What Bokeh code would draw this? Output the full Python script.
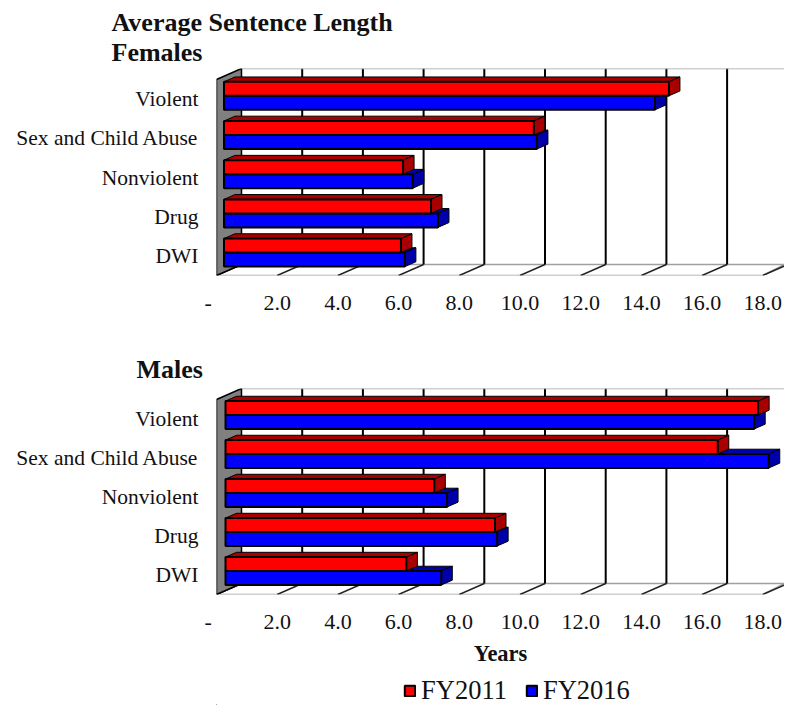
from bokeh.embed import file_html
from bokeh.layouts import column
from bokeh.models import FixedTicker, Legend, LegendItem, Range1d, Title
from bokeh.plotting import figure
from bokeh.resources import INLINE

categories = ["DWI", "Drug", "Nonviolent", "Sex and Child Abuse", "Violent"]
female_fy2011 = [5.83, 6.82, 5.9, 10.21, 14.66]
female_fy2016 = [5.96, 7.05, 6.22, 10.31, 14.2]
male_fy2011 = [5.96, 8.88, 6.88, 16.22, 17.55]
male_fy2016 = [7.11, 8.95, 7.3, 17.9, 17.42]
ticks = [0, 2, 4, 6, 8, 10, 12, 14, 16, 18]
tick_labels = {0: "-\u00a0\u00a0\u00a0", 2: "2.0", 4: "4.0", 6: "6.0", 8: "8.0", 10: "10.0",
               12: "12.0", 14: "14.0", 16: "16.0", 18: "18.0"}
series_names = ["FY2011", "FY2016"]

SERIF = "Liberation Serif"
XPX = 30.35
YPX = 39.2
FRAME_W = 568
FRAME_H = 207
DX = 25 / XPX
DY = 11 / YPX
BAR_H = 14 / YPX
BAR_D = 0.44
RED, DARK_RED = "#ff0000", "#a80000"
BLUE, DARK_BLUE = "#0000ff", "#0000a8"


def chart(v2011, v2016, title, title_offset, title_standoff, height, border_top, border_bottom, bar_front):
    p = figure(width=784, height=height, output_backend="svg", toolbar_location=None,
               x_range=Range1d(0, FRAME_W / XPX), y_range=Range1d(0, FRAME_H / YPX),
               min_border_left=216, min_border_right=0,
               min_border_top=border_top, min_border_bottom=border_bottom,
               background_fill_color="white", outline_line_color=None)
    p.grid.visible = False
    xmax = FRAME_W / XPX
    n = len(categories)
    # floor
    p.patch([0, 18, xmax, DX], [0, 0, DY, DY], fill_color="white", line_color="#a0a0a0", line_width=1.5)
    p.segment(ticks, [0] * len(ticks), [t + DX for t in ticks], [DY] * len(ticks), line_color="#222222", line_width=1.5)
    # back wall
    p.segment([t + DX for t in ticks[1:]], [DY] * 9, [t + DX for t in ticks[1:]], [n + DY] * 9,
              line_color="black", line_width=2)
    p.segment([DX], [n + DY], [xmax], [n + DY], line_color="#a0a0a0", line_width=1.5)
    # side wall
    p.patch([0, DX, DX, 0], [0, DY, n + DY, n], fill_color="#808080", line_color="black", line_width=1.5)

    x0 = bar_front * DX
    y0 = bar_front * DY
    bd_x = BAR_D * DX
    bd_y = BAR_D * DY
    for i in range(n):
        c = i + 0.5 + y0
        for val, lo, front, dark in ((v2016[i], c - BAR_H, BLUE, DARK_BLUE),
                                     (v2011[i], c, RED, DARK_RED)):
            hi = lo + BAR_H
            end = val + x0
            p.patch([x0, x0 + bd_x, end + bd_x, end], [hi, hi + bd_y, hi + bd_y, hi],
                    fill_color=dark, line_color="black", line_width=1)
            p.patch([end, end + bd_x, end + bd_x, end], [lo, lo + bd_y, hi + bd_y, hi],
                    fill_color=dark, line_color="black", line_width=1)
            p.hbar(y=[(lo + hi) / 2], left=[x0], right=[end], height=BAR_H,
                   fill_color=front, line_color="black", line_width=2)

    ya = p.yaxis[0]
    ya.ticker = FixedTicker(ticks=[i + 0.5 for i in range(n)])
    ya.major_label_overrides = {i + 0.5: categories[i] for i in range(n)}
    ya.major_label_text_font = SERIF
    ya.major_label_text_font_size = "21.5px"
    ya.major_label_text_color = "#111111"
    ya.major_label_standoff = 12
    ya.major_tick_line_color = None
    ya.minor_tick_line_color = None
    ya.axis_line_color = None

    xa = p.xaxis[0]
    xa.ticker = FixedTicker(ticks=ticks)
    xa.major_label_overrides = tick_labels
    xa.major_label_text_font = SERIF
    xa.major_label_text_font_size = "22px"
    xa.major_label_text_color = "#111111"
    xa.major_label_standoff = 8
    xa.major_tick_line_color = None
    xa.minor_tick_line_color = None
    xa.axis_line_color = None

    p.title = Title(text=title, align="left", offset=title_offset, standoff=title_standoff,
                    text_font=SERIF, text_font_size="26px", text_font_style="bold", text_color="#111111",
                    text_line_height=1.05)
    return p


top = chart(female_fy2011, female_fy2016, "Average Sentence Length\nFemales", -105, 2,
            334, 68, 59, 0.3)
bottom = chart(male_fy2011, male_fy2016, "Males", -80, 9,
               334, 54, 73, 0.36)
bottom.xaxis[0].axis_label = "Years"
bottom.xaxis[0].axis_label_text_font = SERIF
bottom.xaxis[0].axis_label_text_font_size = "22.5px"
bottom.xaxis[0].axis_label_text_font_style = "bold"
bottom.xaxis[0].axis_label_text_color = "#111111"
bottom.xaxis[0].axis_label_standoff = 4

key = figure(width=784, height=37, output_backend="svg", toolbar_location=None,
             x_range=Range1d(20, 21), y_range=Range1d(2, 3),
             x_axis_type=None, y_axis_type=None, min_border=0, outline_line_color=None)
key.grid.visible = False
swatches = [key.hbar(y=[0], left=[0], right=[v[0]], height=1, fill_color=c, line_color="black", line_width=2)
            for c, v in ((RED, male_fy2011), (BLUE, male_fy2016))]
legend = Legend(items=[LegendItem(label=n, renderers=[r]) for n, r in zip(series_names, swatches)],
                orientation="horizontal", location=(187, -1), border_line_color=None,
                background_fill_alpha=0, label_text_font=SERIF, label_text_font_size="26.5px",
                label_text_color="#111111", glyph_width=13, glyph_height=13, spacing=18,
                label_standoff=5, margin=0, padding=2)
key.add_layout(legend)

page = column(top, bottom, key, spacing=0)
open("out.html", "w").write(file_html(page, INLINE))
